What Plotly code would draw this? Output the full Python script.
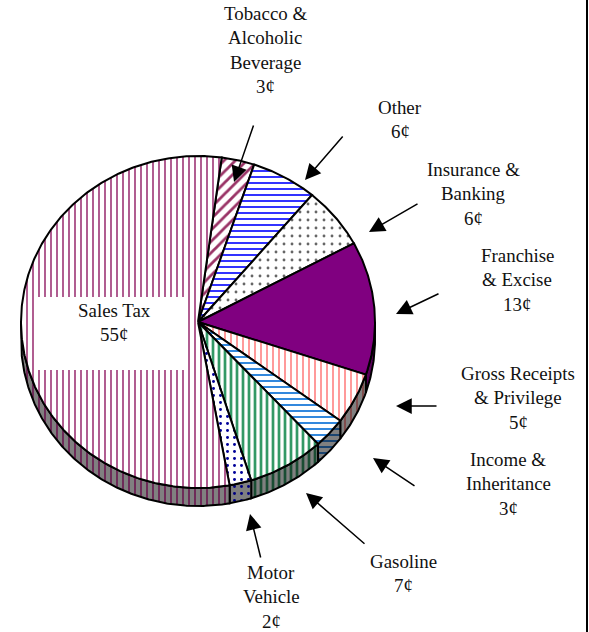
import math
import plotly.graph_objects as go

# ---- data ----
categories = ["Tobacco & Alcoholic Beverage", "Other", "Insurance & Banking",
              "Franchise & Excise", "Gross Receipts & Privilege",
              "Income & Inheritance", "Gasoline", "Motor Vehicle", "Sales Tax"]
cents = [3, 6, 6, 13, 5, 3, 7, 2, 55]

label_lines = [
    ["Tobacco &", "Alcoholic", "Beverage", "3¢"],
    ["Other", "6¢"],
    ["Insurance &", "Banking", "6¢"],
    ["Franchise", "& Excise", "13¢"],
    ["Gross Receipts", "& Privilege", "5¢"],
    ["Income &", "Inheritance", "3¢"],
    ["Gasoline", "7¢"],
    ["Motor", "Vehicle", "2¢"],
    ["Sales Tax", "55¢"],
]
label_x = [265, 400, 473, 517, 518, 508, 403, 271, 114]
label_y = [13, 107, 169, 255, 373, 459, 561, 572, 310]

arrow_tail = [(254, 124), (344, 135), (419, 203), (440, 293), (438, 406), (416, 487), (366, 545), (261, 559)]
arrow_tip = [(234, 182), (305, 180), (369, 232), (396, 314), (396, 406), (373, 458), (306, 493), (250, 514)]

pattern_shape = ["/", "-", ".", "", "|", "-", "|", ".", "|"]
pattern_size = [8, 6, 8, 6, 6, 6, 6, 7, 6]
pattern_solid = [0.35, 0.33, 0.1, 0.3, 0.33, 0.33, 0.45, 0.14, 0.33]
top_fg = ["#993366", "#3333ff", "#666666", "#800080", "#ff9999", "#3388dd", "#339966", "#000099", "#b05c90"]
top_bg = ["white"] * 3 + ["#800080"] + ["white"] * 5
side_fg = ["#4d1a33", "#1a1a80", "#333333", "#5a005a", "#804c4c", "#1a4470", "#1a4d33", "#000080", "#6e2a58"]
side_bg = ["#808080"] * 3 + ["#5a005a"] + ["#808080"] * 5

# ---- geometry of the tilted pie (pixels of the page) ----
CX, CY, RX, RY, DEPTH = 198, 322, 177, 166, 18
START_DEG = 7.7
W, H = 589, 632


def rim(deg, drop=0.0):
    a = math.radians(deg)
    return CX + RX * math.sin(a), CY - RY * math.cos(a) + drop


def arc(a0, a1, drop=0.0):
    n = max(2, int(abs(a1 - a0)) * 2 + 2)
    return [rim(a0 + (a1 - a0) * i / (n - 1), drop) for i in range(n)]


fig = go.Figure()
total = sum(cents)
spans = []
cum = START_DEG
for v in cents:
    spans.append((cum, cum + v / total * 360))
    cum = spans[-1][1]


def add_poly(pts, name, shape, size, solid, fg, bg):
    xs = [p[0] for p in pts] + [pts[0][0]]
    ys = [p[1] for p in pts] + [pts[0][1]]
    pat = dict(shape=shape, size=size, solidity=solid, fgcolor=fg, bgcolor=bg, fillmode="replace")
    fig.add_trace(go.Scatter(x=xs, y=ys, mode="lines", fill="toself", fillcolor=bg, fillpattern=pat,
                             line=dict(color="black", width=2), name=name, hoverinfo="name",
                             showlegend=False))


# side wall: only the front half of the rim is visible
for i, (a0, a1) in enumerate(spans):
    lo, hi = max(a0, 90), min(a1, 270)
    if lo >= hi:
        continue
    pts = arc(lo, hi) + arc(hi, lo, DEPTH)
    add_poly(pts, categories[i], pattern_shape[i], pattern_size[i], pattern_solid[i], side_fg[i], side_bg[i])

# top face
for i, (a0, a1) in enumerate(spans):
    pts = [(CX, CY)] + arc(a0, a1)
    add_poly(pts, categories[i], pattern_shape[i], pattern_size[i], pattern_solid[i], top_fg[i], top_bg[i])

annotations = []
for lines, x, y in zip(label_lines, label_x, label_y):
    for j, t in enumerate(lines):
        annotations.append(dict(x=x, y=y + j * 24.6, text=t, showarrow=False, xref="x", yref="y",
                                xanchor="center", yanchor="middle",
                                font=dict(family="Liberation Serif", size=18.9, color="#111111")))
for tail, tip in zip(arrow_tail, arrow_tip):
    annotations.append(dict(x=tip[0], y=tip[1], ax=tail[0], ay=tail[1], xref="x", yref="y",
                            axref="x", ayref="y", text="", showarrow=True, arrowhead=2,
                            arrowsize=2.1, arrowwidth=1.5, arrowcolor="black", standoff=0))

shapes = [
    dict(type="rect", x0=37, x1=184, y0=297, y1=370, xref="x", yref="y", layer="above",
         fillcolor="white", line=dict(width=0)),
    dict(type="line", x0=587, x1=587, y0=0, y1=H, xref="x", yref="y", layer="above",
         line=dict(color="black", width=2)),
]

fig.update_layout(
    width=W, height=H, autosize=False, margin=dict(l=0, r=0, t=0, b=0),
    paper_bgcolor="white", plot_bgcolor="white", showlegend=False,
    xaxis=dict(range=[0, W], visible=False, fixedrange=True),
    yaxis=dict(range=[H, 0], visible=False, fixedrange=True),
    annotations=annotations, shapes=shapes,
)
fig.write_html("out.html", config={"displayModeBar": False},
               post_script="document.body.style.margin='0';document.body.style.overflow='hidden';")
